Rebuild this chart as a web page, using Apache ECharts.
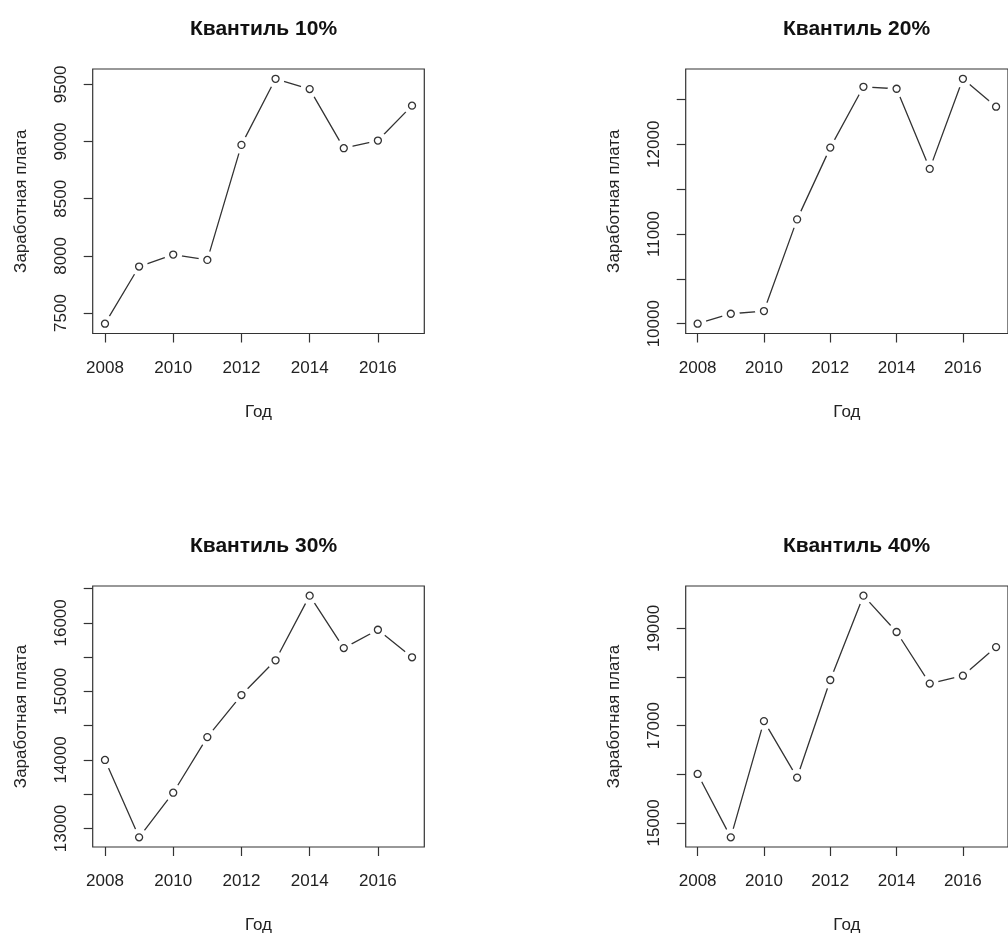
<!DOCTYPE html>
<html>
<head>
<meta charset="utf-8">
<title>Квантили заработной платы</title>
<script src="https://cdn.jsdelivr.net/npm/echarts@6/dist/echarts.min.js"></script>
<style>
    html, body { margin: 0; padding: 0; background: #fff; }
    #chart { width: 1008px; height: 935px; overflow: hidden; }
</style>
</head>
<body>
<div id="chart"></div>
<script>
    // годы и значения квантилей
    var years = [2008, 2009, 2010, 2011, 2012, 2013, 2014, 2015, 2016, 2017];
    var q10 = [7407, 7907, 8012, 7965, 8971, 9549, 9459, 8942, 9009, 9314];
    var q20 = [10000, 10111, 10141, 11163, 11963, 12641, 12619, 11726, 12730, 12419];
    var q30 = [14000, 12871, 13522, 14334, 14947, 15454, 16397, 15632, 15900, 15498];
    var q40 = [16007, 14704, 17094, 15933, 17939, 19673, 18926, 17865, 18027, 18616];

    // деления осей
    var xTicks = [2008, 2010, 2012, 2014, 2016];
    var yTicks10 = [7500, 8000, 8500, 9000, 9500];
    var yLabels10 = [7500, 8000, 8500, 9000, 9500];
    var yTicks20 = [10000, 10500, 11000, 11500, 12000, 12500];
    var yLabels20 = [10000, 11000, 12000];
    var yTicks30 = [13000, 13500, 14000, 14500, 15000, 15500, 16000, 16500];
    var yLabels30 = [13000, 14000, 15000, 16000];
    var yTicks40 = [15000, 16000, 17000, 18000, 19000];
    var yLabels40 = [15000, 17000, 19000];

    var titles = ['Квантиль 10%', 'Квантиль 20%', 'Квантиль 30%', 'Квантиль 40%'];

    var FONT = "'Liberation Sans', Arial, sans-serif";
    var INK = '#222';
    var LINE = '#333';

    // пределы оси как в R: диапазон данных плюс 4% с каждой стороны
    function pad(arr) {
        var lo = Math.min.apply(null, arr), hi = Math.max.apply(null, arr);
        var d = (hi - lo) * 0.04;
        return [lo - d, hi + d];
    }

    // без разделителей тысяч
    function plain(v) { return String(Math.round(v)); }

    // положение панелей (left, top)
    var boxes = [
        [92.7, 69], [685.7, 69],
        [92.7, 586], [685.7, 586]
    ];
    var boxW = 331.6, boxH = 264.5;

    var panels = [
        {data: q10, ticks: yTicks10, labels: yLabels10},
        {data: q20, ticks: yTicks20, labels: yLabels20},
        {data: q30, ticks: yTicks30, labels: yLabels30},
        {data: q40, ticks: yTicks40, labels: yLabels40}
    ];

    var option = {
        backgroundColor: '#fff',
        animation: false,
        title: [],
        grid: [],
        xAxis: [],
        yAxis: [],
        series: []
    };

    var xr = pad(years);

    panels.forEach(function (p, i) {
        var b = boxes[i];
        var yr = pad(p.data);
        var pts = years.map(function (y, k) { return [y, p.data[k]]; });

        option.title.push({
            text: titles[i],
            left: b[0] + boxW / 2,
            top: b[1] - 55,
            textAlign: 'center',
            textStyle: {fontFamily: FONT, fontSize: 21, fontWeight: 'bold', color: '#111'}
        });

        // рамка поверх белых кружков
        option.grid.push({
            left: b[0], top: b[1], width: boxW, height: boxH, z: 10,
            show: true, borderColor: LINE, borderWidth: 1.2, backgroundColor: 'transparent'
        });

        option.xAxis.push({
            type: 'value', gridIndex: i,
            min: xr[0], max: xr[1],
            name: 'Год', nameLocation: 'middle', nameGap: 70,
            nameTextStyle: {fontFamily: FONT, fontSize: 17, color: INK},
            axisLine: {show: false},
            axisTick: {show: true, length: 9, customValues: xTicks, lineStyle: {color: LINE, width: 1.2}},
            axisLabel: {customValues: xTicks, formatter: plain, margin: 26, fontFamily: FONT, fontSize: 17, color: INK},
            splitLine: {show: false}
        });

        option.yAxis.push({
            type: 'value', gridIndex: i,
            min: yr[0], max: yr[1],
            name: 'Заработная плата', nameLocation: 'middle', nameGap: 63,
            nameTextStyle: {fontFamily: FONT, fontSize: 17, color: INK},
            axisLine: {show: false},
            axisTick: {show: true, length: 9, customValues: p.ticks, lineStyle: {color: LINE, width: 1.2}},
            axisLabel: {customValues: p.labels, formatter: plain, rotate: 90, margin: 23, fontFamily: FONT, fontSize: 17, color: INK},
            splitLine: {show: false}
        });

        // линия
        option.series.push({
            type: 'line', xAxisIndex: i, yAxisIndex: i,
            data: pts, z: 1, showSymbol: false,
            lineStyle: {color: LINE, width: 1.3},
            silent: true
        });
        // белые кружки — разрывы линии вокруг точек (как type="b" в R)
        option.series.push({
            type: 'scatter', xAxisIndex: i, yAxisIndex: i,
            data: pts, z: 2,
            symbol: 'circle', symbolSize: 18,
            itemStyle: {color: '#ffffff', opacity: 1},
            silent: true, clip: false
        });
        // сами точки
        option.series.push({
            type: 'scatter', xAxisIndex: i, yAxisIndex: i,
            data: pts, z: 3,
            symbol: 'circle', symbolSize: 7,
            itemStyle: {color: '#ffffff', borderColor: LINE, borderWidth: 1.3, opacity: 1},
            silent: true, clip: false
        });
    });

    var chart = echarts.init(document.getElementById('chart'));
    chart.setOption(option);
    window.addEventListener('resize', function () { chart.resize(); });
</script>
</body>
</html>
